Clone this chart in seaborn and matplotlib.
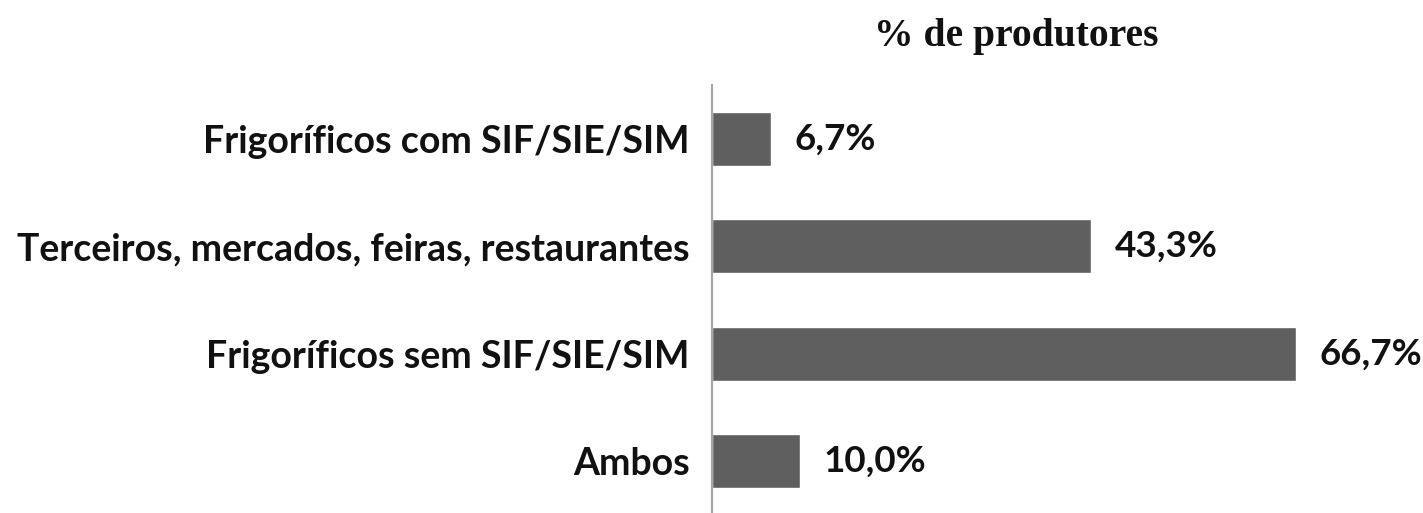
import matplotlib
matplotlib.use("Agg")
import matplotlib.pyplot as plt
import seaborn as sns
import pandas as pd

categories = [
    "Frigoríficos com SIF/SIE/SIM",
    "Terceiros, mercados, feiras, restaurantes",
    "Frigoríficos sem SIF/SIE/SIM",
    "Ambos",
]
values = [6.7, 43.3, 66.7, 10.0]
title = "% de produtores"

df = pd.DataFrame({"categoria": categories, "pct": values})

sns.set_theme(style="white")
plt.rcParams["font.family"] = ["Lato", "DejaVu Sans"]

fig = plt.figure(figsize=(14.23, 5.13), dpi=100)
ax = fig.add_axes([0.5004, -0.004, 0.4925, 0.838])

sns.barplot(data=df, x="pct", y="categoria", orient="h", color="#5f5f5f",
            saturation=1, width=0.5, ax=ax)

ax.set_xlim(0, 80)
ax.set_ylim(3.5, -0.5)
ax.set_xlabel("")
ax.set_ylabel("")
ax.set_xticks([])
for s in ["top", "right", "bottom"]:
    ax.spines[s].set_visible(False)
ax.spines["left"].set_color("#a6a6a6")
ax.spines["left"].set_linewidth(1.6)
ax.tick_params(axis="y", length=0, pad=16, labelsize=27)
for lbl in ax.get_yticklabels():
    lbl.set_fontweight("bold")
    lbl.set_color("#111111")

for container in ax.containers:
    ax.bar_label(container, labels=[f"{v:.1f}%".replace(".", ",") for v in values],
                 padding=17, fontsize=26.5, fontweight="bold", color="#111111")

fig.text(0.714, 0.928, title, ha="center", va="center", fontsize=28.5,
         fontweight="bold", family=["Liberation Serif", "DejaVu Serif"], color="#111111")

fig.savefig("out.png", dpi=100, facecolor="white")
